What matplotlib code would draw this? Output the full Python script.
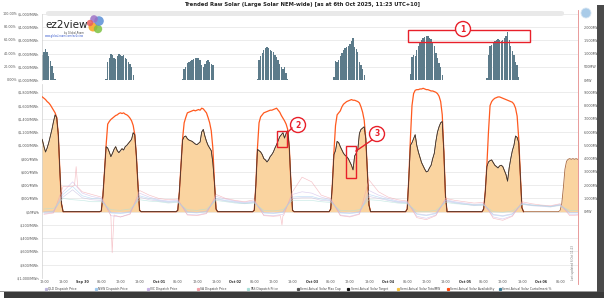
import numpy as np
import matplotlib
matplotlib.use("Agg")
import matplotlib.pyplot as plt
from matplotlib.patches import Rectangle, Circle, FancyBboxPatch
from matplotlib.lines import Line2D
from matplotlib.transforms import IdentityTransform

W, H = 604, 298

TITLE = "Trended Raw Solar (Large Solar NEM-wide) [as at 6th Oct 2025, 11:23 UTC+10]"

# ---------------- data (MW) ----------------
day_hours = np.arange(5.5, 19.0, 0.5)        # 27 values
sep29_hours = np.arange(11.0, 19.0, 0.5)     # 16 values
oct06_hours = np.arange(5.5, 12.0, 0.5)      # 13 values

avail_sep29 = [8700, 8650, 8550, 8450, 8300, 8200, 8050, 7850, 7650, 7450, 7100, 5800, 3000, 600, 0, 0]
target_sep29 = [5600, 5400, 4900, 4500, 4800, 5200, 5700, 6200, 6800, 7300, 7100, 5800, 3000, 600, 0, 0]
curt_sep29 = [36, 38, 43, 47, 42, 37, 29, 21, 11, 2, 0, 0, 0, 0, 0, 0]

avail_sep30 = [0, 50, 1200, 3000, 5000, 6600, 6800, 6950, 7050, 7150, 7250, 7300, 7400, 7450, 7400, 7450, 7350, 7300, 7200, 7050, 6850, 6500, 5800, 4200, 2000, 100, 0]
target_sep30 = [0, 50, 1200, 3000, 4900, 4800, 4500, 4150, 4400, 4700, 4900, 4600, 4450, 4600, 4750, 4650, 4900, 5000, 5150, 5300, 5450, 5950, 5800, 4200, 2000, 100, 0]
curt_sep30 = [0, 0, 0, 0, 2, 27, 34, 40, 38, 34, 32, 37, 40, 38, 36, 38, 33, 32, 28, 25, 20, 8, 0, 0, 0, 0, 0]

avail_oct01 = [0, 100, 1500, 3500, 5500, 6700, 7100, 7450, 7500, 7550, 7600, 7650, 7600, 7650, 7700, 7650, 7800, 7750, 7600, 7450, 7100, 6700, 6100, 4800, 2200, 200, 0]
target_oct01 = [0, 100, 1500, 3500, 5400, 5650, 5700, 5500, 5400, 5350, 5300, 5200, 5100, 5050, 5150, 5250, 6000, 6200, 5700, 5300, 5000, 4800, 4600, 3700, 2200, 200, 0]
curt_oct01 = [0, 0, 0, 0, 2, 16, 20, 26, 28, 29, 30, 32, 33, 34, 33, 31, 23, 20, 25, 29, 30, 28, 25, 23, 0, 0, 0]

avail_oct02 = [0, 100, 2000, 4800, 6700, 7150, 7300, 7450, 7500, 7550, 7600, 7650, 7650, 7700, 7750, 7800, 7650, 7500, 7250, 7050, 6850, 6600, 6200, 4800, 2200, 100, 0]
target_oct02 = [0, 100, 2000, 4700, 4600, 4500, 4300, 4000, 3900, 3750, 3900, 4150, 4300, 4500, 4800, 5050, 5350, 5650, 5800, 5950, 5550, 5900, 6100, 4800, 2200, 100, 0]
curt_oct02 = [0, 0, 0, 2, 31, 37, 41, 46, 48, 50, 49, 46, 44, 42, 38, 35, 30, 25, 20, 16, 19, 11, 2, 0, 0, 0, 0]

avail_oct03 = [0, 200, 2000, 4500, 6500, 7300, 7450, 7600, 7900, 8100, 8200, 8300, 8350, 8400, 8450, 8400, 8400, 8350, 8300, 8200, 7900, 7500, 6900, 5500, 3000, 500, 0]
target_oct03 = [0, 200, 2000, 4300, 4600, 5300, 5200, 4900, 4650, 4400, 4250, 4150, 4000, 3750, 3500, 3150, 4200, 4400, 4700, 5900, 6200, 6300, 6400, 5500, 3000, 500, 0]
curt_oct03 = [0, 0, 0, 4, 29, 27, 30, 36, 41, 46, 48, 50, 52, 55, 59, 63, 50, 47, 43, 28, 22, 16, 7, 0, 0, 0, 0]

avail_oct04 = [0, 200, 2500, 5500, 8000, 8900, 9150, 9200, 9200, 9250, 9250, 9300, 9250, 9200, 9200, 9150, 9100, 9100, 9050, 9000, 8900, 8700, 8300, 7300, 4500, 1200, 0]
target_oct04 = [0, 200, 2500, 5000, 5200, 5500, 5800, 5000, 4500, 4100, 3700, 3450, 3200, 3000, 3050, 3300, 3500, 4000, 4400, 5300, 6000, 6400, 6700, 6800, 4500, 1200, 0]
curt_oct04 = [0, 0, 0, 9, 35, 38, 37, 46, 51, 56, 60, 63, 65, 67, 67, 64, 62, 56, 51, 41, 33, 26, 19, 7, 0, 0, 0]

avail_oct05 = [0, 200, 1500, 3500, 6000, 8000, 8300, 8450, 8550, 8600, 8650, 8650, 8600, 8550, 8500, 8450, 8400, 8350, 8300, 8250, 8100, 7800, 7200, 5500, 2800, 300, 0]
target_oct05 = [0, 200, 1500, 3400, 3750, 3850, 3900, 3700, 3500, 3400, 3300, 3450, 3500, 3400, 3100, 2800, 2300, 3300, 4000, 4600, 5000, 5700, 5600, 5200, 2800, 300, 0]
curt_oct05 = [0, 0, 0, 3, 38, 52, 53, 56, 59, 60, 62, 60, 59, 60, 64, 67, 73, 60, 52, 44, 38, 27, 22, 5, 0, 0, 0]

totmw_oct06 = [0, 100, 600, 1800, 3200, 3800, 3950, 4000, 3950, 4000, 3950, 4000, 3950]

# dispatch prices ($/MWh), 3-hourly from Sep 29 12:00 to Oct 6 12:00
price_hours = np.arange(12, 181, 3)
qld_price = [0, 10, 220, 330, 210, 180, 170, -10, -20, 0, 220, 180, 160, 140, 150, 0, -10, 10, 190, 160,
             140, 120, 140, -10, -20, 0, 200, 210, 210, 170, 160, -10, -20, 0, 230, 200, 170, 140, 130, -30,
             -50, -20, 160, 130, 110, 90, 100, -40, -60, -30, 110, 90, 80, 70, 100, -10, -10]
nsw_price = [-10, 0, 260, 380, 240, 200, 190, -20, -30, -10, 240, 200, 170, 150, 160, -10, -20, 0, 200, 170,
             150, 130, 150, -20, -30, -10, 220, 230, 230, 190, 170, -20, -30, -10, 260, 220, 180, 150, 140, -40,
             -60, -30, 170, 140, 120, 100, 110, -50, -70, -40, 120, 100, 90, 80, 110, -20, -20]
vic_price = [-30, -10, 300, 450, 280, 230, 200, -60, -80, -30, 280, 220, 180, 160, 170, -40, -50, -20, 230, 190,
             160, 140, 160, -50, -60, -40, 260, 300, 280, 220, 180, -50, -70, -30, 320, 250, 200, 160, 150, -70,
             -100, -50, 180, 150, 130, 110, 120, -80, -110, -60, 130, 100, 90, 80, 100, -40, -40]
sa_price = [-40, -20, 380, 380, 300, 260, 220, -60, -80, -40, 320, 250, 200, 180, 190, -50, -60, -30, 260, 200,
            170, 150, 180, -60, -70, -60, 300, 520, 450, 250, 200, -60, -80, -40, 480, 300, 220, 180, 160, -90,
            -120, -60, 200, 170, 150, 130, 140, -100, -130, -70, 150, 120, 100, 90, 120, -60, -50]
tas_price = [40, 50, 200, 180, 170, 150, 150, 30, 20, 40, 180, 160, 150, 130, 140, 30, 20, 40, 170, 150,
             130, 120, 130, 20, 10, 30, 170, 170, 170, 150, 140, 20, 10, 30, 180, 170, 150, 130, 120, 10,
             0, 20, 140, 120, 110, 100, 100, 0, -10, 10, 110, 100, 90, 80, 90, 20, 20]
# short SA price spikes (hour since Sep 29 00:00, $/MWh)
sa_spike_hours = [21.6, 22.1, 22.6, 32.8, 33.4, 34.0, 86.2, 86.7, 87.2]
sa_spike_vals = [400, 680, 370, -40, -620, -50, -60, -200, -60]

date_labels = ["Sep 30", "Oct 01", "Oct 02", "Oct 03", "Oct 04", "Oct 05", "Oct 06"]
legend_labels = ["QLD Dispatch Price", "NSW Dispatch Price", "VIC Dispatch Price", "SA Dispatch Price",
                 "TAS Dispatch Price", "Semi-Actual Solar Max Cap", "Semi-Actual Solar Target",
                 "Semi-Actual Solar TotalMW", "Semi-Actual Solar Availability", "Semi-Actual Solar Curtailment %"]

# ---------------- assemble time series ----------------
solar_days = [
    (0, sep29_hours, avail_sep29, target_sep29, curt_sep29),
    (1, day_hours, avail_sep30, target_sep30, curt_sep30),
    (2, day_hours, avail_oct01, target_oct01, curt_oct01),
    (3, day_hours, avail_oct02, target_oct02, curt_oct02),
    (4, day_hours, avail_oct03, target_oct03, curt_oct03),
    (5, day_hours, avail_oct04, target_oct04, curt_oct04),
    (6, day_hours, avail_oct05, target_oct05, curt_oct05),
]
t_sol = np.concatenate([24 * d + h for d, h, *_ in solar_days])
avail = np.concatenate([a for _, _, a, _, _ in solar_days])
target = np.concatenate([t for _, _, _, t, _ in solar_days])
curt = np.concatenate([c for *_, c in solar_days])
t_fill = np.concatenate([t_sol, 24 * 7 + oct06_hours])
fill_vals = np.concatenate([target, totmw_oct06])

sa_t = np.concatenate([price_hours, sa_spike_hours])
sa_v = np.concatenate([sa_price, sa_spike_vals])
order = np.argsort(sa_t)
sa_t, sa_v = sa_t[order], sa_v[order]

# ---------------- figure ----------------
plt.rcParams['font.family'] = ['DejaVu Sans']
fig = plt.figure(figsize=(W / 100, H / 100), dpi=100)
fig.patch.set_facecolor('white')

def fx(x):
    return x / W

def fy(y):
    return 1 - y / H

X0, X1 = 11.383, 179.6
tick_col = '#555555'
grid_col = '#e4e4e4'
FS = 2.4

# ----- top panel (curtailment %) -----
axt = fig.add_axes([fx(42), fy(80), (578 - 42) / W, 66 / H])
axt.bar(t_sol, curt, width=0.42, color='#5c7b8a', linewidth=0, zorder=2)
axt.set_xlim(X0, X1)
axt.set_ylim(0, 100)
axt2 = axt.twinx()
axt.yaxis.tick_left()
axt.set_yticks(np.arange(0, 101, 20))
axt.set_yticklabels(["$0,000/MWh", "$1,000/MWh", "$2,000/MWh", "$3,000/MWh", "$4,000/MWh", "$5,000/MWh"])
axt.yaxis.grid(True, color=grid_col, lw=0.5)
axt.set_axisbelow(True)
axt.set_xticks([])
axt.tick_params(axis='y', length=0, labelsize=FS, labelcolor=tick_col, pad=2)
for s in axt.spines.values():
    s.set_visible(False)
axt.spines['left'].set_visible(True)
axt.spines['left'].set_color('#d0d0d0')
axt.spines['left'].set_linewidth(0.5)
for v in np.arange(0, 101, 20):
    axt.text(fx(17), v, f"{v:.2f}%", transform=matplotlib.transforms.blended_transform_factory(
        fig.transFigure, axt.transData), ha='right', va='center', fontsize=FS, color=tick_col)
axt2.set_ylim(0, 2500)
axt2.set_yticks([0, 500, 1000, 1500, 2000])
axt2.set_yticklabels(["0MW", "500MW", "1,000MW", "1,500MW", "2,000MW"])
axt2.tick_params(axis='y', length=0, labelsize=FS, labelcolor=tick_col, pad=4)
for s in axt2.spines.values():
    s.set_visible(False)

# ----- main panel -----
ax = fig.add_axes([fx(42), fy(278), (578 - 42) / W, (278 - 84) / H])
axp = ax.twinx()           # price axis, drawn on top
ax.set_xlim(X0, X1)
ax.set_ylim(-5000, 9625)
ax.fill_between(t_fill, fill_vals, 0, color='#fad4a0', linewidth=0, zorder=2)
ax.plot(t_fill, fill_vals, color='#a8683c', lw=0.6, zorder=3)
ax.plot(t_sol, avail, color='#ff5a1f', lw=0.9, zorder=4)
ax.plot(t_sol, target, color='#333333', lw=0.55, zorder=5)
mw_ticks = np.arange(-5000, 9001, 1000)
ax.set_yticks(mw_ticks)
ax.set_yticklabels([f"{v:,}MW" if v >= 0 else "" for v in mw_ticks])
ax.yaxis.tick_right()
ax.yaxis.grid(True, color=grid_col, lw=0.5)
ax.set_axisbelow(True)
ax.tick_params(axis='y', length=0, labelsize=FS, labelcolor=tick_col, pad=4)

xt = np.arange(12, 175, 6)
xl = []
for t in xt:
    if t % 24 == 0:
        xl.append(date_labels[t // 24 - 1])
    else:
        xl.append(f"{t % 24:02d}:00")
ax.set_xticks(xt)
ax.set_xticklabels(xl)
ax.tick_params(axis='x', length=0, labelsize=FS, labelcolor=tick_col, pad=1.5)
for lab, t in zip(ax.get_xticklabels(), xt):
    if t % 24 == 0:
        lab.set_fontweight('bold')
        lab.set_color('#333333')
for s in ax.spines.values():
    s.set_visible(False)
ax.spines['left'].set_visible(True)
ax.spines['left'].set_color('#d0d0d0')
ax.spines['left'].set_linewidth(0.5)

axp.set_ylim(-1000, 1925)
axp.yaxis.tick_left()
p_ticks = np.arange(-1000, 1801, 200)
axp.set_yticks(p_ticks)
axp.set_yticklabels([f"${v:,}/MWh" if v >= 0 else f"-${-v:,}/MWh" for v in p_ticks])
axp.tick_params(axis='y', length=0, labelsize=FS, labelcolor=tick_col, pad=2)
for s in axp.spines.values():
    s.set_visible(False)
price_cols = ['#c4bde0', '#a6cff2', '#cdb9e8', '#f2a6ae', '#b0e0da']
price_series = [(price_hours, qld_price), (price_hours, nsw_price), (price_hours, vic_price),
                (sa_t, sa_v), (price_hours, tas_price)]
for (pt, pv), c in zip(price_series, price_cols):
    axp.plot(pt, pv, color=c, lw=0.45, alpha=0.7, zorder=6)
axp.set_xlim(X0, X1)

# ----- decorations -----
fig.text(fx(302), fy(4.5), TITLE, ha='center', va='center', fontsize=3.8, fontweight='bold', color='#222222')

# navigator band + icon
fig.add_artist(FancyBboxPatch((fx(46), fy(16)), fx(518), 5 / H, boxstyle="round,pad=0,rounding_size=0.006",
                              transform=fig.transFigure, facecolor='#e9e9e9', edgecolor='none'))
fig.add_artist(Circle((586, H - 13), 5, transform=IdentityTransform(), facecolor='#a9cbe8', edgecolor='#d8e6f3', lw=0.6))

# "now" red line
fig.add_artist(Line2D([fx(578), fx(578)], [fy(10), fy(284)], transform=fig.transFigure, color='#e48a8a', lw=0.6))
fig.text(fx(573), fy(262), "Last updated 6 Oct 11:23", rotation=90, ha='center', va='center',
         fontsize=2.0, color='#777777')

# logo
fig.text(fx(45), fy(25), "ez2view", fontsize=7.5, color='#222222', ha='left', va='center')
for (cx, cy, r, c) in [(93, 27, 4.5, '#f7a21b'), (98, 29, 4.2, '#7dc242'), (99, 21, 4.8, '#5b8fd6'),
                       (94, 19, 3.8, '#9b6fc4'), (90, 23, 3.2, '#e85d5d')]:
    fig.add_artist(Circle((cx, H - cy), r, transform=IdentityTransform(), facecolor=c, edgecolor='none', alpha=0.85))
fig.text(fx(84), fy(33), "by Global-Roam", fontsize=1.8, color='#444444', ha='right', va='center')
fig.text(fx(64), fy(36.5), "www.global-roam.com/ez2view", fontsize=1.8, color='#3355cc', ha='center', va='center')

# legend row
leg_x = [46, 96, 148, 198, 248, 298, 348, 398, 448, 500]
leg_c = ['#bdb6dc', '#9fcaf0', '#c7b2e4', '#f2a0a8', '#a9ddd6', '#555555', '#111111', '#f5c242', '#ff4a10', '#3f7f9a']
for x, lab, c in zip(leg_x, legend_labels, leg_c):
    fig.add_artist(Line2D([fx(x)], [fy(289)], marker='s', markersize=1.3, color=c, transform=fig.transFigure, lw=0))
    fig.text(fx(x + 2.5), fy(289), lab, fontsize=2.2, color='#444444', ha='left', va='center')

# annotation boxes and numbered circles
red = '#e8202a'
def rect(x0, y0, x1, y1):
    fig.add_artist(Rectangle((x0, H - y1), x1 - x0, y1 - y0, transform=IdentityTransform(),
                             facecolor='none', edgecolor=red, lw=1.0))

def bubble(cx, cy, txt, r=7.5):
    fig.add_artist(Circle((cx, H - cy), r, transform=IdentityTransform(), facecolor='white', edgecolor=red, lw=1.0))
    fig.text(fx(cx), fy(cy), txt, ha='center', va='center', fontsize=5.5, fontweight='bold', color=red)

rect(408, 30, 530, 42)
rect(277, 131, 287, 147)
rect(346, 146, 356, 178)
fig.add_artist(Line2D([fx(292), fx(287)], [fy(128), fy(133)], transform=fig.transFigure, color=red, lw=1.0))
fig.add_artist(Line2D([fx(372), fx(356)], [fy(140), fy(151)], transform=fig.transFigure, color=red, lw=1.0))
bubble(463, 29, "1")
bubble(298, 125, "2")
bubble(377, 134, "3")

# drop shadow of the screenshot
fig.add_artist(Rectangle((fx(597), 0), 1 - fx(597), fy(5), transform=fig.transFigure, facecolor='#4a4a4a',
                         edgecolor='none'))
fig.add_artist(Rectangle((fx(4), 0), 1 - fx(4), 6 / H, transform=fig.transFigure,
                         facecolor='#3a3a3a', edgecolor='none'))
fig.add_artist(Rectangle((0, 6 / H), fx(597), 1 / H, transform=fig.transFigure, facecolor='#9a9a9a',
                         edgecolor='none'))

fig.savefig("out.png", dpi=100)
